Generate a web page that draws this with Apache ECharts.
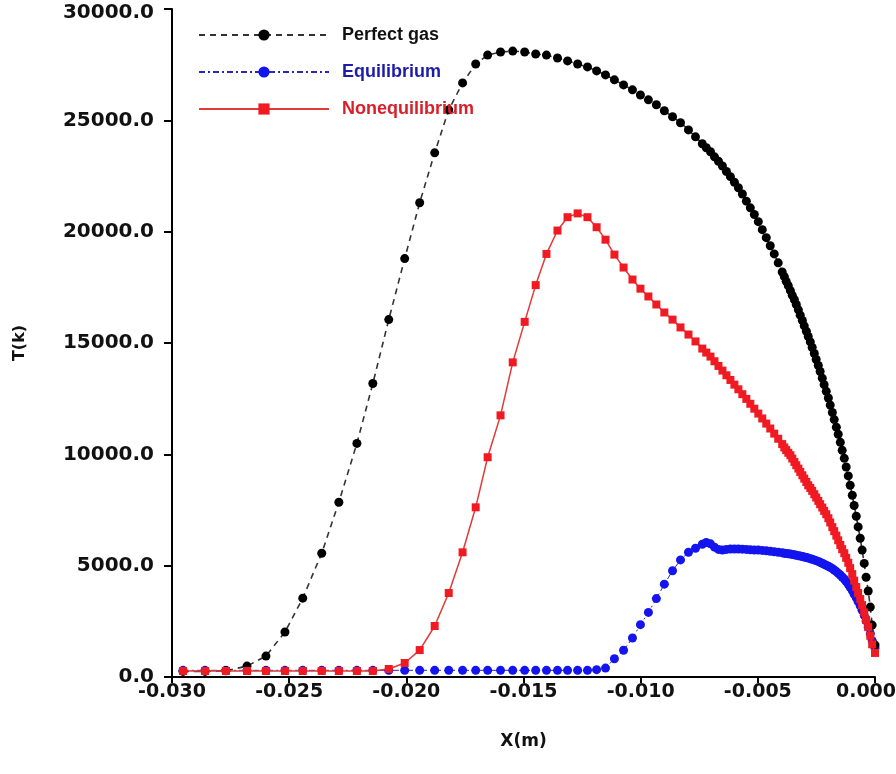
<!DOCTYPE html>
<html><head><meta charset="utf-8">
<script src="https://cdn.jsdelivr.net/npm/echarts@6/dist/echarts.min.js"></script>
<style>html,body{margin:0;padding:0;background:#fff}#c{width:896px;height:774px}</style>
</head><body><div id="c"></div>
<script>
// Shared X positions (m)
const xPositions = [
-0.02953,-0.02859,-0.02770,-0.02680,-0.02599,-0.02518,-0.02442,-0.02361,-0.02288,-0.02211,
-0.02143,-0.02075,-0.02007,-0.01943,-0.01879,-0.01819,-0.01760,-0.01704,-0.01653,-0.01598,
-0.01546,-0.01495,-0.01448,-0.01402,-0.01355,-0.01312,-0.01269,-0.01227,-0.01188,
-0.01150,-0.01112,-0.01073,-0.01035,-0.01001,-0.00967,-0.00933,-0.00899,-0.00864,-0.00830,
-0.00796,-0.00766,
-0.00737,-0.00720,-0.00702,-0.00685,-0.00668,-0.00651,-0.00634,-0.00617,-0.00600,-0.00583,
-0.00566,-0.00549,-0.00532,-0.00515,-0.00498,-0.00481,-0.00464,-0.00447,-0.00430,-0.00413,-0.00396,
-0.00387,-0.00379,-0.00370,-0.00361,-0.00353,-0.00344,-0.00336,-0.00327,-0.00319,-0.00310,
-0.00302,-0.00293,-0.00285,-0.00276,-0.00268,-0.00259,-0.00251,-0.00242,-0.00234,-0.00225,
-0.00217,-0.00208,-0.00199,-0.00191,-0.00182,-0.00174,-0.00165,-0.00157,-0.00148,-0.00140,
-0.00131,-0.00123,-0.00114,-0.00106,-0.00097,-0.00089,-0.00080,-0.00072,-0.00063,-0.00055,
-0.00046,-0.00038,-0.00029,-0.00020,-0.00012,0.00000
];
// Perfect gas T (K)
const perfectGasT = [
250,250,280,490,940,2020,3540,5560,7850,10490,
13180,16050,18790,21300,23540,25470,26680,27530,27930,28070,
28110,28070,27980,27930,27800,27670,27530,27400,27220,
27040,26820,26590,26370,26140,25920,25700,25430,25160,24890,
24570,24260,
23950,23770,23590,23360,23160,22950,22700,22470,22220,21970,
21690,21370,21070,20770,20450,20090,19730,19370,19000,18600,18190,
17980,17770,17570,17350,17140,16940,16730,16490,16250,16010,
15770,15530,15290,15050,14800,14530,14260,13990,13720,13420,
13130,12830,12530,12210,11880,11560,11220,10900,10540,10180,
9820,9430,9030,8610,8160,7700,7220,6740,6230,5700,
5100,4480,3860,3140,2330,1440
];
// Equilibrium T (K)
const equilibriumT = [
300,300,300,300,300,300,300,300,300,300,
300,300,300,300,300,300,300,300,300,300,
300,300,300,300,300,300,300,300,330,
400,820,1200,1750,2350,2900,3520,4170,4770,5260,
5600,5780,
5960,6040,5980,5830,5730,5700,5730,5745,5750,5750,
5740,5730,5715,5705,5700,5685,5665,5645,5625,5600,5575,
5560,5545,5530,5520,5505,5490,5470,5450,5430,5410,
5390,5365,5340,5315,5285,5260,5225,5190,5150,5110,
5065,5020,4975,4925,4870,4805,4735,4660,4580,4490,
4400,4290,4165,4030,3880,3720,3560,3390,3200,3000,
2770,2520,2250,1950,1630,1300
];
// Nonequilibrium T (K)
const nonequilibriumT = [
270,270,270,270,270,270,270,270,270,270,
270,360,630,1210,2290,3770,5600,7620,9870,11750,
14130,15950,17600,19000,20050,20650,20820,20650,20200,
19640,18970,18390,17850,17440,17090,16730,16370,16050,15700,
15380,15070,
14750,14570,14390,14180,13970,13760,13550,13340,13130,12920,
12700,12490,12270,12050,11830,11610,11380,11160,10930,10700,10460,
10310,10190,10070,9960,9810,9660,9510,9360,9210,9060,
8910,8760,8610,8490,8360,8210,8060,7910,7760,7610,
7460,7310,7130,6940,6730,6550,6350,6140,5930,5740,
5560,5350,5130,4890,4620,4330,4040,3770,3500,3230,
2900,2570,2240,1850,1470,1080
];
const seriesNames = ['Perfect gas', 'Equilibrium', 'Nonequilibrium'];
const legendColors = ['#111111', '#1c1caa', '#d8202a'];

function pairs(ys) { return xPositions.map((x, i) => [x, ys[i]]); }

const chart = echarts.init(document.getElementById('c'), null, { renderer: 'canvas' });
const labelFont = { fontFamily: 'DejaVu Sans', fontWeight: 'bold', color: '#111' };

chart.setOption({
  animation: false,
  backgroundColor: '#ffffff',
  grid: { left: 172, right: 21, top: 9, bottom: 97, outerBoundsMode: 'none', containLabel: false },
  legend: {
    orient: 'vertical', left: 193, top: 21,
    itemWidth: 130, itemHeight: 14, itemGap: 19,
    data: seriesNames.map((n, i) => ({ name: n, textStyle: { color: legendColors[i] } })),
    textStyle: { fontFamily: 'Liberation Sans', fontWeight: 'bold', fontSize: 18, padding: [4, 0, 0, 8] }
  },
  xAxis: {
    type: 'value', min: -0.03, max: 0, interval: 0.005,
    name: 'X(m)', nameLocation: 'middle', nameGap: 56,
    nameTextStyle: { fontFamily: 'DejaVu Sans', fontWeight: 'bold', fontSize: 17, color: '#111' },
    axisLine: { show: true, onZero: false, lineStyle: { color: '#000', width: 2 } },
    axisTick: { show: true, length: 6, lineStyle: { color: '#000', width: 2 } },
    axisLabel: Object.assign({
      margin: 6, fontSize: 19,
      formatter: v => Math.abs(v) < 1e-9 ? '{e|0.000}' : v.toFixed(3),
      rich: { e: { fontFamily: 'DejaVu Sans', fontWeight: 'bold', fontSize: 19, color: '#111', padding: [0, 18, 0, 0] } }
    }, labelFont),
    splitLine: { show: false }
  },
  yAxis: {
    type: 'value', min: 0, max: 30000, interval: 5000,
    name: 'T(k)', nameLocation: 'middle', nameGap: 144, nameRotate: 90,
    nameTextStyle: { fontFamily: 'DejaVu Sans', fontWeight: 'bold', fontSize: 16, color: '#111' },
    axisLine: { show: true, onZero: false, lineStyle: { color: '#000', width: 2 } },
    axisTick: { show: true, length: 8, lineStyle: { color: '#000', width: 2 } },
    axisLabel: Object.assign({
      margin: 18, fontSize: 20,
      formatter: v => v >= 30000 ? '{t|' + v.toFixed(1) + '}' : v.toFixed(1),
      rich: { t: { fontFamily: 'DejaVu Sans', fontWeight: 'bold', fontSize: 20, color: '#111', padding: [8, 0, 0, 0] } }
    }, labelFont),
    splitLine: { show: false }
  },
  series: [
    {
      name: seriesNames[0], type: 'line', data: pairs(perfectGasT), z: 3, clip: false,
      symbol: 'circle', symbolSize: 9,
      itemStyle: { color: '#000000' },
      lineStyle: { color: '#333333', width: 1.6, type: [6, 5] }
    },
    {
      name: seriesNames[1], type: 'line', data: pairs(equilibriumT), z: 2, clip: false,
      symbol: 'circle', symbolSize: 9,
      itemStyle: { color: '#1414ee' },
      lineStyle: { color: '#2a2ab8', width: 1, type: [6, 3, 2, 3] }
    },
    {
      name: seriesNames[2], type: 'line', data: pairs(nonequilibriumT), z: 4, clip: false,
      symbol: 'rect', symbolSize: 8,
      itemStyle: { color: '#f01a22' },
      lineStyle: { color: '#e03a3a', width: 1.5 }
    }
  ]
});
</script>
</body></html>
